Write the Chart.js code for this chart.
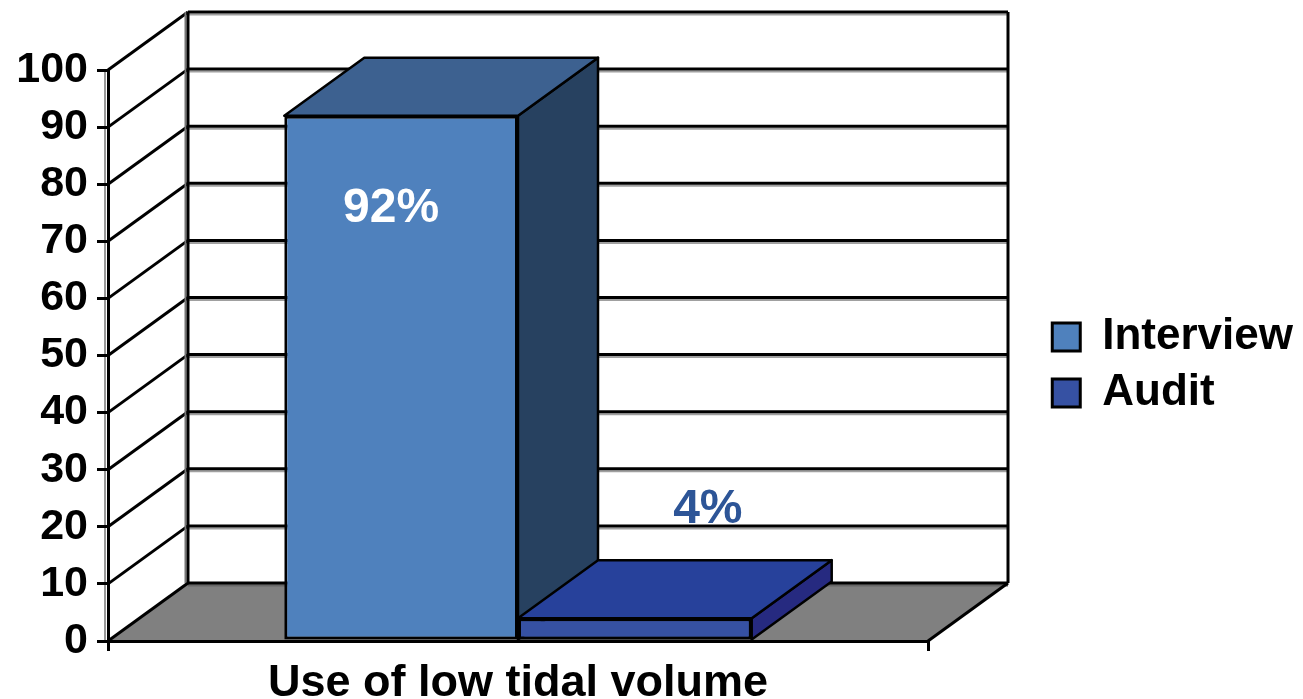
<!DOCTYPE html>
<html>
<head>
<meta charset="utf-8">
<script src="https://cdn.jsdelivr.net/npm/chart.js@4.4.1/dist/chart.umd.min.js"></script>
<style>
  html, body { margin: 0; padding: 0; background: #fff; }
  #chart { display: block; }
</style>
</head>
<body>
<canvas id="chart" width="1303" height="699"></canvas>
<script>
// data
const categories = ['Use of low tidal volume'];
const seriesNames = ['Interview', 'Audit'];
const interviewValues = [92];
const auditValues = [4];
const yTicks = [0, 10, 20, 30, 40, 50, 60, 70, 80, 90, 100];

// colours: front, top and side faces of each series, value label colour
const frontColors = ['#4F81BD', '#3651A3'];
const topColors = ['#3D6190', '#27419B'];
const sideColors = ['#274160', '#262A80'];
const labelColors = ['#FFFFFF', '#2D5597'];

const FONT = '"Liberation Sans", Arial, sans-serif';
const DX = 80, DY = -58; // depth of the 3d box
const FRONT_RIGHT = 928;

// legend width, so the gap between plot and legend can be kept
const LEGEND_SIZE = 44, LEGEND_BOX = 28, LEGEND_PAD = 12;
const mctx = document.createElement('canvas').getContext('2d');
mctx.font = 'bold ' + LEGEND_SIZE + 'px ' + FONT;
const legendW = LEGEND_PAD + LEGEND_BOX + LEGEND_SIZE / 2 +
    Math.max(...seriesNames.map(n => mctx.measureText(n).width)) + 10;
const rightGap = 1303 - FRONT_RIGHT - legendW;

function line(ctx, x1, y1, x2, y2, color, w) {
    ctx.strokeStyle = color;
    ctx.lineWidth = w;
    ctx.beginPath();
    ctx.moveTo(x1, y1);
    ctx.lineTo(x2, y2);
    ctx.stroke();
}

function face(ctx, pts, fill) {
    ctx.fillStyle = fill;
    ctx.strokeStyle = '#000';
    ctx.lineWidth = 2.5;
    ctx.lineJoin = 'round';
    ctx.beginPath();
    pts.forEach((p, i) => i ? ctx.lineTo(p[0], p[1]) : ctx.moveTo(p[0], p[1]));
    ctx.closePath();
    ctx.fill();
    ctx.stroke();
}

// back wall, side wall and floor
const wallsPlugin = {
    id: 'walls',
    beforeDraw(chart) {
        const {ctx, chartArea: a, scales: {y}} = chart;
        const L = a.left, R = a.right;
        const y0 = y.getPixelForValue(0);
        const yTop = y.getPixelForValue(100);
        ctx.save();
        ctx.fillStyle = '#808080';
        ctx.beginPath();
        ctx.moveTo(L, y0);
        ctx.lineTo(R, y0);
        ctx.lineTo(R + DX, y0 + DY);
        ctx.lineTo(L + DX, y0 + DY);
        ctx.closePath();
        ctx.fill();

        yTicks.forEach(v => {
            const yf = y.getPixelForValue(v);
            const yb = yf + DY;
            line(ctx, L + DX, yb + 2.5, R + DX, yb + 2.5, v === 0 ? '#666' : '#a0a0a0', 2);
            line(ctx, L + DX, yb, R + DX, yb, '#000', 3);
            line(ctx, L, yf, L + DX, yb, '#000', 3);
        });
        line(ctx, L + DX - 2.5, yTop + DY, L + DX - 2.5, y0 + DY, '#777', 2);
        line(ctx, L + DX, yTop + DY, L + DX, y0 + DY, '#000', 3);
        line(ctx, R + DX, yTop + DY, R + DX, y0 + DY, '#000', 3);
        line(ctx, R, y0, R + DX, y0 + DY, '#000', 3);
        line(ctx, L - 3, yTop, L - 3, y0, '#999', 2);
        ctx.restore();
    }
};

// top and side faces of the bars, then the value labels
const boxPlugin = {
    id: 'boxes',
    afterDatasetsDraw(chart) {
        const ctx = chart.ctx;
        ctx.save();
        chart.data.datasets.forEach((ds, i) => {
            const meta = chart.getDatasetMeta(i);
            meta.data.forEach(el => {
                if (i > 0) el.draw(ctx); // keep this front over the previous side face
                const p = el.getProps(['x', 'y', 'base', 'width'], true);
                const l = p.x - p.width / 2, r = p.x + p.width / 2;
                face(ctx, [[r, p.y], [r + DX, p.y + DY], [r + DX, p.base + DY], [r, p.base]], sideColors[i]);
                face(ctx, [[l, p.y], [r, p.y], [r + DX, p.y + DY], [l + DX, p.y + DY]], topColors[i]);
            });
        });

        ctx.font = 'bold 48px ' + FONT;
        ctx.textAlign = 'center';
        ctx.textBaseline = 'middle';
        chart.data.datasets.forEach((ds, i) => {
            const meta = chart.getDatasetMeta(i);
            meta.data.forEach((el, j) => {
                ctx.fillStyle = labelColors[i];
                const txt = ds.data[j] + '%';
                if (i === 0) ctx.fillText(txt, el.x - 10, el.y + 93);
                else ctx.fillText(txt, el.x + 73, el.y - 108);
            });
        });
        ctx.restore();
    }
};

const hidden = {
    display: true,
    grid: { display: false },
    border: { display: false },
    ticks: { display: false }
};

new Chart(document.getElementById('chart'), {
    type: 'bar',
    data: {
        labels: categories,
        datasets: [
            {
                label: seriesNames[0],
                data: interviewValues,
                backgroundColor: frontColors[0],
                borderColor: '#000',
                borderWidth: 3,
                borderSkipped: false,
                xAxisID: 'x',
                yAxisID: 'y'
            },
            {
                label: seriesNames[1],
                data: auditValues,
                backgroundColor: frontColors[1],
                borderColor: '#000',
                borderWidth: 3,
                borderSkipped: false,
                xAxisID: 'x',
                yAxisID: 'y'
            }
        ]
    },
    options: {
        responsive: false,
        animation: false,
        devicePixelRatio: 1,
        categoryPercentage: 0.57,
        barPercentage: 1.0,
        layout: { padding: { top: 31, left: 0, right: 0, bottom: 0 } },
        plugins: {
            tooltip: { enabled: false },
            legend: {
                position: 'right',
                maxWidth: 500,
                labels: {
                    boxWidth: LEGEND_BOX,
                    boxHeight: LEGEND_BOX,
                    padding: LEGEND_PAD,
                    color: '#000',
                    font: { family: FONT, size: LEGEND_SIZE, weight: 'bold' }
                }
            }
        },
        scales: {
            x: {
                type: 'category',
                offset: true,
                grid: {
                    offset: true,
                    drawOnChartArea: false,
                    drawTicks: true,
                    tickLength: 10,
                    color: '#000',
                    lineWidth: 3
                },
                border: { display: true, color: '#000', width: 3 },
                ticks: {
                    color: '#000',
                    padding: 6,
                    font: { family: FONT, size: 45, weight: 'bold' }
                },
                afterFit: s => { s.height = 58; }
            },
            y: {
                min: 0,
                max: 100,
                afterBuildTicks: s => { s.ticks = yTicks.map(v => ({ value: v })); },
                ticks: {
                    color: '#000',
                    padding: 9,
                    font: { family: FONT, size: 43, weight: 'bold' }
                },
                grid: {
                    drawOnChartArea: false,
                    drawTicks: true,
                    tickLength: 11,
                    color: '#000',
                    lineWidth: 3
                },
                border: { color: '#000', width: 3 },
                afterFit: s => { s.width = 108; }
            },
            yRight: Object.assign({ type: 'linear', position: 'right', afterFit: s => { s.width = rightGap; } }, hidden),
            xTop: Object.assign({ type: 'linear', position: 'top', afterFit: s => { s.height = 39; } }, hidden)
        }
    },
    plugins: [wallsPlugin, boxPlugin]
});
</script>
</body>
</html>
